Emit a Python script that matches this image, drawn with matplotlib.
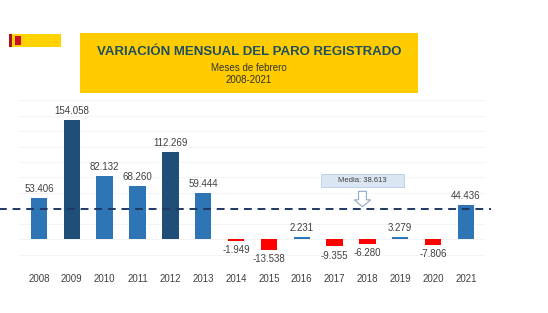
import matplotlib.pyplot as plt
from matplotlib.patches import Rectangle, FancyArrow

plt.rcParams['font.family'] = ['Liberation Sans', 'DejaVu Sans']

years = ['2008', '2009', '2010', '2011', '2012', '2013', '2014',
         '2015', '2016', '2017', '2018', '2019', '2020', '2021']
values = [53406, 154058, 82132, 68260, 112269, 59444, -1949,
          -13538, 2231, -9355, -6280, 3279, -7806, 44436]
labels = ['53.406', '154.058', '82.132', '68.260', '112.269', '59.444', '-1.949',
          '-13.538', '2.231', '-9.355', '-6.280', '3.279', '-7.806', '44.436']
highlight = ['2009', '2012']
mean_value = sum(values) / len(values)
mean_label = 'Media: 38.613'

light_blue = '#2E75B6'
dark_blue = '#1F4E79'
red = '#FF0000'
text_grey = '#404040'

fig = plt.figure(figsize=(5.48, 3.13), dpi=100)
ax = fig.add_axes([0.0352, 0.137, 0.851, 0.543])

colors = []
for y, v in zip(years, values):
    if v < 0:
        colors.append(red)
    elif y in highlight:
        colors.append(dark_blue)
    else:
        colors.append(light_blue)

x = list(range(len(years)))
ax.bar(x, values, width=0.5, color=colors, zorder=3)

for xi, v, lab in zip(x, values, labels):
    if v >= 0:
        ax.annotate(lab, (xi, v), xytext=(0, 3), textcoords='offset points',
                    ha='center', va='bottom', fontsize=7, color=text_grey)
    else:
        ax.annotate(lab, (xi, v), xytext=(0, -3), textcoords='offset points',
                    ha='center', va='top', fontsize=7, color=text_grey)

ax.set_xlim(-0.6, 13.6)
ax.set_ylim(-40000, 180000)
ax.set_yticks(range(-40000, 180001, 20000))
ax.yaxis.grid(True, color='#F2F2F2', linewidth=0.6, zorder=0)
ax.set_xticks(x)
ax.set_xticklabels(years, fontsize=7, color=text_grey)
ax.tick_params(axis='x', length=0, pad=3)
ax.tick_params(axis='y', left=False, labelleft=False)
for s in ax.spines.values():
    s.set_visible(False)

# mean line across the whole slide
ax.plot([-1.3, 13.75], [mean_value, mean_value], ls=(0, (4, 3)), color='#1F3864',
        lw=1.4, clip_on=False, zorder=4)

# mean box with arrow
ax.add_patch(Rectangle((8.6, 67000), 2.5, 17000, facecolor='#DAE6F3',
                       edgecolor='#B8CCE4', lw=0.6, zorder=5))
ax.text(9.85, 75500, mean_label, ha='center', va='center', fontsize=5.5,
        color='#404040', zorder=6)
ax.add_patch(FancyArrow(9.85, 62000, 0, -20000, width=0.24, head_width=0.5,
                        head_length=9000, length_includes_head=True,
                        facecolor='white', edgecolor='#8FA9C8', lw=0.8, zorder=6))

# header box
fig.patches.append(Rectangle((80 / 548, 1 - 93 / 313), 338 / 548, 60 / 313,
                             transform=fig.transFigure, facecolor='#FFCC00',
                             edgecolor='none'))
fig.text(249 / 548, 1 - 52 / 313, 'VARIACIÓN MENSUAL DEL PARO REGISTRADO',
         ha='center', va='center', fontsize=9.5, fontweight='bold',
         color='#1F4E5F')
fig.text(249 / 548, 1 - 68 / 313, 'Meses de febrero', ha='center', va='center',
         fontsize=7, color='#333333')
fig.text(249 / 548, 1 - 80 / 313, '2008-2021', ha='center', va='center',
         fontsize=7, color='#333333')

# small logo
fig.patches.append(Rectangle((9 / 548, 1 - 47 / 313), 52 / 548, 13 / 313,
                             transform=fig.transFigure, facecolor='#FFD200',
                             edgecolor='none'))
fig.patches.append(Rectangle((9 / 548, 1 - 47 / 313), 3 / 548, 13 / 313,
                             transform=fig.transFigure, facecolor='#AA151B',
                             edgecolor='none'))
fig.patches.append(Rectangle((15 / 548, 1 - 45 / 313), 6 / 548, 9 / 313,
                             transform=fig.transFigure, facecolor='#C8102E',
                             edgecolor='none'))

fig.savefig('out.png', dpi=100)
